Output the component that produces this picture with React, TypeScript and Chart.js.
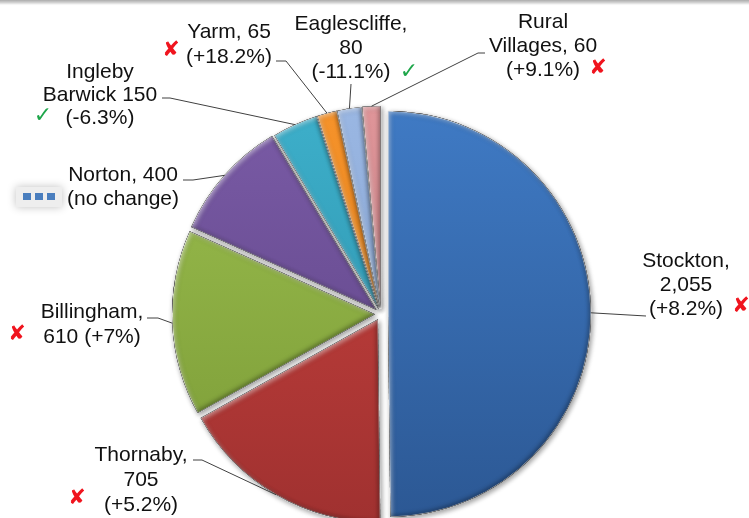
import React, { useEffect, useRef } from 'react';
import { Chart, registerables } from 'chart.js';

Chart.register(...registerables);

// ---------- data ----------
const categories = ['Stockton', 'Thornaby', 'Billingham', 'Norton', 'Ingleby Barwick', 'Yarm', 'Eaglescliffe', 'Rural Villages'];
const values = [2055, 705, 610, 400, 150, 65, 80, 60];
const changes = ['+8.2%', '+5.2%', '+7%', 'no change', '-6.3%', '+18.2%', '-11.1%', '+9.1%'];
// up = worse (red cross), down = better (green tick), flat = no change
const trend = ['up', 'up', 'up', 'flat', 'down', 'up', 'down', 'up'];
const labelLines = [
  ['Stockton,', '2,055', '(+8.2%)'],
  ['Thornaby,', '705', '(+5.2%)'],
  ['Billingham,', '610 (+7%)'],
  ['Norton, 400', '(no change)'],
  ['Ingleby', 'Barwick 150', '(-6.3%)'],
  ['Yarm, 65', '(+18.2%)'],
  ['Eaglescliffe,', '80', '(-11.1%)'],
  ['Rural', 'Villages, 60', '(+9.1%)'],
];

// ---------- styles / layout ----------
const sliceTop = ['#3F7AC4', '#C9433F', '#9BBE4E', '#7A5BA6', '#3DAFCA', '#F6932B', '#9AB7E3', '#DF9599'];
const sliceBottom = ['#2C5894', '#A03130', '#7A9A36', '#5C4283', '#2A8CA6', '#D87812', '#7F9CC9', '#C07A7E'];
const EXPLODE = [7, 6, 6, 6, 5, 5, 5, 5];
const RADIUS = 203;
const FONT = '21px "Liberation Sans", Arial, sans-serif';
const CROSS_FONT = '21px "DejaVu Sans", sans-serif';
const TICK_FONT = '22px "DejaVu Sans", sans-serif';

type Lbl = { cx: number; y0: number; lh: number; from: [number, number]; knee: [number, number] | null; mark: [number, number] };
const LABELS: Lbl[] = [
  { cx: 686, y0: 261, lh: 24, from: [646, 316], knee: null, mark: [741, 307] },
  { cx: 141, y0: 455, lh: 25, from: [193, 460], knee: [202, 460], mark: [77, 499] },
  { cx: 92, y0: 312, lh: 25, from: [147, 318], knee: [158, 318], mark: [17, 335] },
  { cx: 123, y0: 175, lh: 24, from: [183, 180], knee: [193, 180], mark: [39, 197] },
  { cx: 100, y0: 72, lh: 23, from: [162, 98], knee: [170, 98], mark: [43, 116] },
  { cx: 229, y0: 32, lh: 25, from: [276, 61], knee: [286, 61], mark: [171, 51] },
  { cx: 351, y0: 24, lh: 24, from: [351, 84], knee: null, mark: [409, 72] },
  { cx: 543, y0: 22, lh: 24, from: [485, 53], knee: [478, 53], mark: [598, 69] },
];

const topBandPlugin = {
  id: 'topBand',
  beforeDraw(chart: any) {
    const ctx = chart.ctx;
    const g = ctx.createLinearGradient(0, 0, 0, 6);
    g.addColorStop(0, 'rgba(170,170,170,1)');
    g.addColorStop(0.5, 'rgba(205,205,205,0.8)');
    g.addColorStop(1, 'rgba(255,255,255,0)');
    ctx.save();
    ctx.fillStyle = g;
    ctx.fillRect(0, 0, chart.width, 6);
    ctx.restore();
  },
};

const explodePlugin = {
  id: 'explodeBevel',
  beforeDatasetsDraw(chart: any) {
    const meta = chart.getDatasetMeta(0);
    meta.data.forEach((el: any, i: number) => {
      if (el.__wrapped) return;
      const orig = el.draw.bind(el);
      el.draw = (ctx: CanvasRenderingContext2D, area: any) => {
        const p = el.getProps(['x', 'y', 'startAngle', 'endAngle', 'outerRadius'], true);
        const mid = (p.startAngle + p.endAngle) / 2;
        const e = EXPLODE[i];
        const dx = Math.cos(mid) * e;
        const dy = Math.sin(mid) * e;
        // body with drop shadow
        ctx.save();
        ctx.translate(dx, dy);
        ctx.shadowColor = 'rgba(0,0,0,0.38)';
        ctx.shadowBlur = 5;
        ctx.shadowOffsetX = 1.5;
        ctx.shadowOffsetY = 2;
        orig(ctx, area);
        ctx.restore();
        // bevel (inner highlight + inner shade)
        ctx.save();
        ctx.translate(dx, dy);
        ctx.beginPath();
        ctx.moveTo(p.x, p.y);
        ctx.arc(p.x, p.y, p.outerRadius, p.startAngle, p.endAngle);
        ctx.closePath();
        ctx.clip();
        ctx.beginPath();
        ctx.rect(p.x - 1200, p.y - 1200, 2400, 2400);
        ctx.moveTo(p.x, p.y);
        ctx.arc(p.x, p.y, p.outerRadius, p.startAngle, p.endAngle);
        ctx.closePath();
        ctx.fillStyle = '#000';
        ctx.shadowColor = 'rgba(255,255,255,0.45)';
        ctx.shadowBlur = 4;
        ctx.shadowOffsetX = 2;
        ctx.shadowOffsetY = 2;
        ctx.fill('evenodd');
        ctx.shadowColor = 'rgba(0,0,0,0.3)';
        ctx.shadowOffsetX = -2;
        ctx.shadowOffsetY = -2;
        ctx.fill('evenodd');
        ctx.restore();
      };
      el.__wrapped = true;
    });
  },
};

const labelPlugin = {
  id: 'pieLabels',
  afterDatasetsDraw(chart: any) {
    const ctx: CanvasRenderingContext2D = chart.ctx;
    const meta = chart.getDatasetMeta(0);
    meta.data.forEach((el: any, i: number) => {
      const p = el.getProps(['x', 'y', 'startAngle', 'endAngle', 'outerRadius'], true);
      const mid = (p.startAngle + p.endAngle) / 2;
      const r = p.outerRadius + EXPLODE[i];
      const ax = p.x + Math.cos(mid) * r;
      const ay = p.y + Math.sin(mid) * r;
      const L = LABELS[i];
      ctx.save();
      ctx.strokeStyle = '#404040';
      ctx.lineWidth = 1;
      ctx.beginPath();
      ctx.moveTo(L.from[0], L.from[1]);
      if (L.knee) ctx.lineTo(L.knee[0], L.knee[1]);
      ctx.lineTo(ax, ay);
      ctx.stroke();

      ctx.fillStyle = '#111';
      ctx.font = FONT;
      ctx.textAlign = 'center';
      ctx.textBaseline = 'middle';
      labelLines[i].forEach((t, k) => ctx.fillText(t, L.cx, L.y0 + k * L.lh));

      const [mx, my] = L.mark;
      if (trend[i] === 'up') {
        ctx.font = CROSS_FONT;
        ctx.fillStyle = '#F0141E';
        ctx.fillText('\u2718', mx, my);
      } else if (trend[i] === 'down') {
        ctx.font = TICK_FONT;
        ctx.fillStyle = '#1EA64A';
        ctx.fillText('\u2713', mx, my);
      } else {
        // "no change" marker: three blue squares on a soft grey pad
        ctx.save();
        ctx.shadowColor = 'rgba(0,0,0,0.25)';
        ctx.shadowBlur = 9;
        ctx.fillStyle = 'rgba(238,238,238,1)';
        ctx.fillRect(mx - 23, my - 10, 46, 20);
        ctx.restore();
        ctx.fillStyle = '#4A7EBE';
        for (let k = -1; k <= 1; k++) ctx.fillRect(mx + k * 12 - 4, my - 4, 8, 7);
      }
      ctx.restore();
    });
  },
};

export default function App() {
  const ref = useRef<HTMLCanvasElement | null>(null);
  useEffect(() => {
    document.body.style.margin = '0';
    const canvas = ref.current;
    if (!canvas) return;
    const chart = new Chart(canvas, {
      type: 'pie',
      data: {
        labels: categories,
        datasets: [
          {
            data: values,
            backgroundColor: (c: any) => {
              const chartObj = c.chart;
              const area = chartObj.chartArea;
              const i = c.dataIndex;
              if (!area) return sliceTop[i];
              const cy = (area.top + area.bottom) / 2;
              const g = chartObj.ctx.createLinearGradient(0, cy - RADIUS, 0, cy + RADIUS);
              g.addColorStop(0, sliceTop[i]);
              g.addColorStop(1, sliceBottom[i]);
              return g;
            },
            borderWidth: 1,
            borderColor: 'rgba(240,240,240,0.9)',
            offset: 0,
            clip: false as any,
          } as any,
        ],
      },
      options: {
        responsive: false,
        animation: false,
        devicePixelRatio: 1,
        radius: RADIUS,
        layout: { padding: { left: 13, right: 0, top: 110, bottom: 0 } },
        plugins: {
          legend: { display: false },
          tooltip: { enabled: false },
        },
        events: [],
      } as any,
      plugins: [topBandPlugin, explodePlugin, labelPlugin],
    });
    return () => chart.destroy();
  }, []);
  return (
    <div style={{ position: 'fixed', left: 0, top: 0, width: 749, height: 518, overflow: 'hidden', background: '#fff' }}>
      <canvas ref={ref} width={749} height={518} style={{ width: 749, height: 518, display: 'block' }} />
    </div>
  );
}
